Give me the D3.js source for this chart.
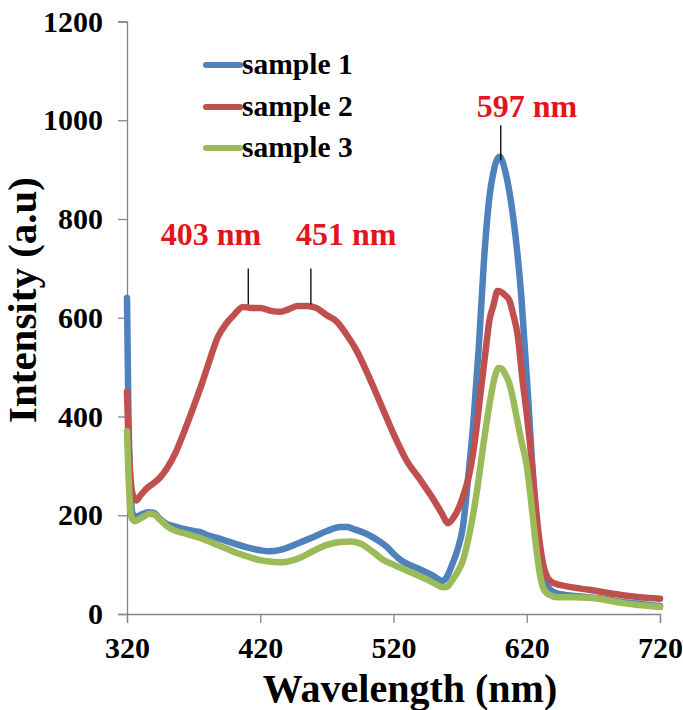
<!DOCTYPE html>
<html><head><meta charset="utf-8">
<script src="https://cdn.jsdelivr.net/npm/d3@7"></script>
<style>
body{margin:0;background:#fff;}
text{font-family:"Liberation Serif","Times New Roman",serif;font-weight:bold;}
</style></head>
<body><svg id="c" width="683" height="710"></svg>
<script>
const xTicks = [320, 420, 520, 620, 720];
const yTicks = [0, 200, 400, 600, 800, 1000, 1200];
const seriesNames = ["sample 1", "sample 2", "sample 3"];
const seriesColors = ["#4f81bd", "#c0504d", "#9bbb59"];

const sample1 = [[320,640],[321,420],[322.5,260],[324,205],[326,196],[328,198],[332,203],[336,206],[340,205],[345,192],[350,182],[355,178],[360,174],[370,168],[375,166],[380,160],[390,152],[400,143],[410,135],[420,129],[427,127],[435,130],[440,134],[450,145],[460,156],[470,168],[480,176],[485,176],[490,172],[500,162],[510,146],[515,136],[520,122],[525,110],[530,102],[540,90],[550,77],[557,67],[560,75],[564,100],[568,130],[572,175],[576,275],[580,390],[584,540],[588,720],[592,845],[595,895],[598,922],[600,926],[602,915],[604,895],[607,855],[610,800],[613,730],[616,640],[619,520],[621,440],[623,350],[626,230],[629,145],[632,85],[636,55],[640,45],[650,38],[660,36],[670,33],[680,30],[690,25],[700,22],[710,19],[720,16]];

const sample2 = [[320,450],[321,360],[322.5,280],[324,245],[327,230],[330,240],[335,255],[340,265],[345,277],[350,295],[357,330],[363,370],[370,420],[376,465],[382,514],[388,560],[395,590],[400,605],[407,622],[413,620],[420,620],[428,614],[435,612],[442,618],[448,624],[455,624],[462,620],[470,605],[477,593],[485,565],[492,535],[500,490],[510,428],[520,365],[530,310],[540,272],[550,232],[556,205],[561,184],[565,195],[569,215],[573,245],[577,285],[581,350],[585,440],[589,530],[592,595],[595,625],[598,654],[601,652],[604,645],[607,635],[610,605],[613,568],[617,470],[620,405],[623,330],[626,240],[629,160],[632,105],[636,72],[640,63],[650,56],[667,49],[680,43],[692,38],[705,34],[720,31]];

const sample3 = [[320,370],[321,290],[322.5,210],[324,192],[326,188],[329,192],[333,198],[337,203],[340,202],[345,190],[350,178],[355,170],[365,162],[375,154],[385,143],[395,132],[400,126],[410,117],[420,109],[425,107],[435,105],[440,106],[450,114],[460,128],[470,140],[480,146],[488,147],[495,143],[505,125],[512,110],[520,100],[525,94],[535,82],[545,70],[552,60],[557,54],[560,55],[564,68],[568,85],[572,108],[576,150],[580,205],[584,275],[587,335],[590,390],[593,440],[596,480],[599,498],[601,497],[604,485],[607,466],[610,432],[613,390],[616,350],[620,300],[623,235],[626,160],[629,95],[632,55],[636,40],[643,34],[655,34],[667,33],[680,28],[692,22],[705,18],[720,14]];

const annLabels = ["403 nm", "451 nm", "597 nm"];
const annLabelPos = [[383, 747], [484.5, 747], [620.2, 1006]];
const annMarkers = [[411, 627, 700], [458, 627, 700], [600.5, 919, 990]];

const svg = d3.select("#c");
const x = d3.scaleLinear().domain([320, 720]).range([127, 660]);
const y = d3.scaleLinear().domain([0, 1200]).range([614, 21.5]);
const axisColor = "#868686";

const gx = svg.append("g").attr("transform", "translate(0,614)")
  .call(d3.axisBottom(x).tickValues(xTicks).tickFormat(d3.format("d")).tickSize(9).tickPadding(14));
const gy = svg.append("g").attr("transform", "translate(127,0)")
  .call(d3.axisLeft(y).tickValues(yTicks).tickFormat(d3.format("d")).tickSize(9).tickPadding(15));
[gx, gy].forEach(g => {
  g.attr("font-family", null).attr("font-size", null);
  g.select(".domain").attr("stroke", axisColor).attr("stroke-width", 1.3);
  g.selectAll(".tick line").attr("stroke", axisColor).attr("stroke-width", 1.3);
  g.selectAll(".tick text").attr("fill", "#000").style("font-size", "30px")
    .style("font-family", '"Liberation Serif", serif').style("font-weight", "bold");
});

const line = d3.line().x(d => x(d[0])).y(d => y(d[1])).curve(d3.curveMonotoneX);
const data = [sample1, sample2, sample3];
data.forEach((s, i) => {
  svg.append("path").datum(s).attr("d", line).attr("fill", "none")
    .attr("stroke", seriesColors[i]).attr("stroke-width", 6.5)
    .attr("stroke-linejoin", "round").attr("stroke-linecap", "round");
});

annMarkers.forEach(m => {
  svg.append("line").attr("x1", x(m[0])).attr("x2", x(m[0]))
    .attr("y1", y(m[1])).attr("y2", y(m[2])).attr("stroke", "#000").attr("stroke-width", 1.3);
});
annLabels.forEach((t, i) => {
  svg.append("text").attr("x", x(annLabelPos[i][0])).attr("y", y(annLabelPos[i][1]))
    .attr("text-anchor", "middle").attr("fill", "#e3141b").style("font-size", "32px").text(t);
});

const legY = [65, 107, 148];
seriesNames.forEach((n, i) => {
  svg.append("line").attr("x1", 206).attr("x2", 240).attr("y1", legY[i]).attr("y2", legY[i])
    .attr("stroke", seriesColors[i]).attr("stroke-width", 6).attr("stroke-linecap", "round");
  svg.append("text").attr("x", 242).attr("y", legY[i] + 9).attr("fill", "#000")
    .style("font-size", "29.5px").text(n);
});

svg.append("text").attr("x", 410).attr("y", 702).attr("text-anchor", "middle")
  .style("font-size", "40px").attr("fill", "#000").text("Wavelength (nm)");
svg.append("text").attr("transform", "translate(36,300) rotate(-90)").attr("text-anchor", "middle")
  .style("font-size", "41px").attr("fill", "#000").text("Intensity (a.u)");
</script></body></html>
